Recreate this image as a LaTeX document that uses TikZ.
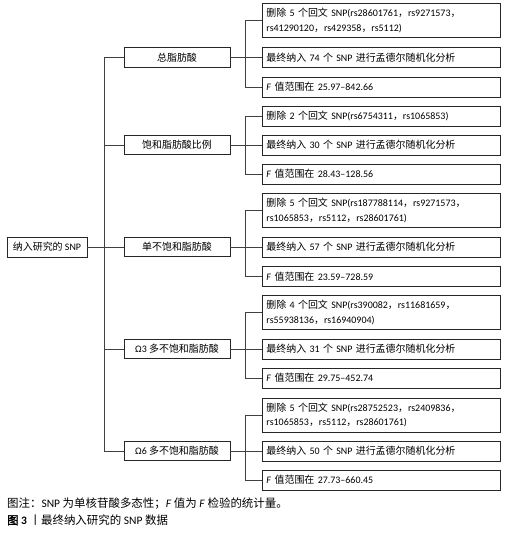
\documentclass[tikz,border=0pt]{standalone}
\usepackage{fontspec}
\setmainfont{Carlito}
\newfontfamily\zhf{Noto Sans CJK SC}
\newfontfamily\zhbf[FakeBold=2]{Noto Sans CJK SC}
\newfontfamily\latbf{Carlito Bold}
\newcommand{\zh}[1]{{\zhf #1}}
\newcommand{\FF}{\textit{F}}
\begin{document}
\begin{tikzpicture}[x=1bp,y=-1bp,
  every node/.style={font=\fontsize{10}{14.5}\selectfont},
  box/.style={draw=black!85, line width=0.9bp, inner sep=0pt},
  midbox/.style={box, minimum width=106bp, minimum height=19.5bp},
  rootbox/.style={box, minimum width=80bp, minimum height=20bp},
  rbox/.style={box, anchor=west, text width=230bp, inner xsep=4bp, minimum height=20bp, align=left},
  rbox2/.style={rbox, minimum height=34bp},
  conn/.style={draw=black!75, line width=0.8bp},
  captext/.style={anchor=west, inner sep=0pt, font=\fontsize{11.5}{14}\selectfont}]
\useasboundingbox (0,0) rectangle (513,540);

\node[rootbox] (root) at (47,247) {\zh{纳入研究的} SNP};

\node[midbox] (m1) at (177,57.5) {\zh{总脂肪酸}};
\node[midbox] (m2) at (177,145) {\zh{饱和脂肪酸比例}};
\node[midbox] (m3) at (177,247) {\zh{单不饱和脂肪酸}};
\node[midbox] (m4) at (177,349) {Ω3 \zh{多不饱和脂肪酸}};
\node[midbox] (m5) at (177,451) {Ω6 \zh{多不饱和脂肪酸}};

% group 1
\node[rbox2] (r11) at (262,20.5) {\zh{删除} 5 \zh{个回文} SNP(rs28601761\zh{，}rs9271573\zh{，}\\rs41290120\zh{，}rs429358\zh{，}rs5112)};
\node[rbox] (r12) at (262,57.5) {\zh{最终纳入} 74 \zh{个} SNP \zh{进行孟德尔随机化分析}};
\node[rbox] (r13) at (262,87) {\FF{} \zh{值范围在} 25.97–842.66};
% group 2
\node[rbox] (r21) at (262,116) {\zh{删除} 2 \zh{个回文} SNP(rs6754311\zh{，}rs1065853)};
\node[rbox] (r22) at (262,145) {\zh{最终纳入} 30 \zh{个} SNP \zh{进行孟德尔随机化分析}};
\node[rbox] (r23) at (262,174) {\FF{} \zh{值范围在} 28.43–128.56};
% group 3
\node[rbox2] (r31) at (262,210.5) {\zh{删除} 5 \zh{个回文} SNP(rs187788114\zh{，}rs9271573\zh{，}\\rs1065853\zh{，}rs5112\zh{，}rs28601761)};
\node[rbox] (r32) at (262,247) {\zh{最终纳入} 57 \zh{个} SNP \zh{进行孟德尔随机化分析}};
\node[rbox] (r33) at (262,276.5) {\FF{} \zh{值范围在} 23.59–728.59};
% group 4
\node[rbox2] (r41) at (262,312.5) {\zh{删除} 4 \zh{个回文} SNP(rs390082\zh{，}rs11681659\zh{，}\\rs55938136\zh{，}rs16940904)};
\node[rbox] (r42) at (262,349) {\zh{最终纳入} 31 \zh{个} SNP \zh{进行孟德尔随机化分析}};
\node[rbox] (r43) at (262,378) {\FF{} \zh{值范围在} 29.75–452.74};
% group 5
\node[rbox2] (r51) at (262,415) {\zh{删除} 5 \zh{个回文} SNP(rs28752523\zh{，}rs2409836\zh{，}\\rs1065853\zh{，}rs5112\zh{，}rs28601761)};
\node[rbox] (r52) at (262,451) {\zh{最终纳入} 50 \zh{个} SNP \zh{进行孟德尔随机化分析}};
\node[rbox] (r53) at (262,480) {\FF{} \zh{值范围在} 27.73–660.45};

% trunk
\coordinate (t) at (104,247);
\draw[conn] (root.east) -- (t);
\draw[conn] (t |- m1.west) -- (t |- m5.west);
\foreach \i in {1,...,5} { \draw[conn] (t |- m\i.west) -- (m\i.west); }

% group brackets
\foreach \g in {1,...,5} {
  \coordinate (b\g) at (245,0 |- m\g.east);
  \draw[conn] (m\g.east) -- (b\g);
  \draw[conn] (b\g |- r\g1.west) -- (b\g |- r\g3.west);
  \foreach \k in {1,2,3} { \draw[conn] (b\g |- r\g\k.west) -- (r\g\k.west); }
}

\node[captext] (c1) at (7,504) {\zh{图注：}SNP \zh{为单核苷酸多态性；}\FF{} \zh{值为} \FF{} \zh{检验的统计量。}};
\node[captext] (c2) at (7,520) {{\zhbf 图} {\latbf 3} \zh{丨}\zh{最终纳入研究的} SNP \zh{数据}};
\end{tikzpicture}
\end{document}
